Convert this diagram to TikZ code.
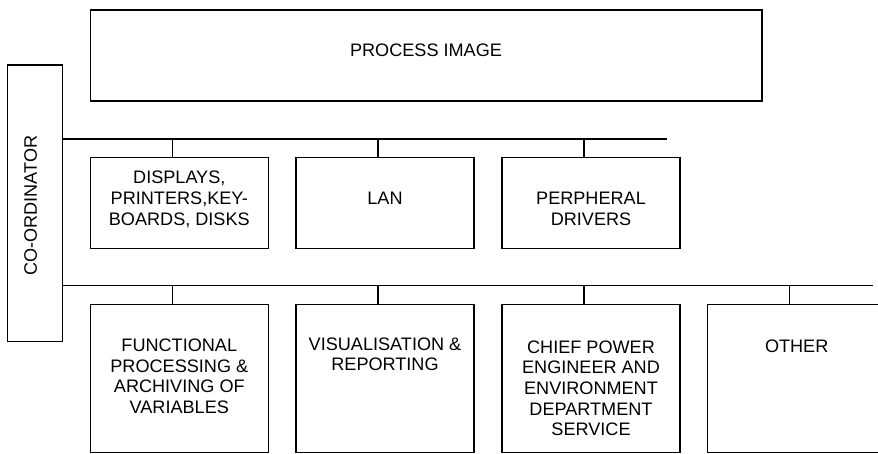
\documentclass[tikz,border=0pt]{standalone}
\usepackage{fontspec}
\setmainfont{Liberation Sans}
\begin{document}
\begin{tikzpicture}[
    x=1pt, y=-1pt, line width=1.5pt,
    unit/.style = {draw, inner sep=0pt, outer sep=0pt, anchor=north west, minimum width=178pt},
    upper/.style = {unit, minimum height=91pt},
    lower/.style = {unit, minimum height=147.8pt},
    caption/.style = {align=center, anchor=base, inner sep=0pt, font=\fontsize{18.1}{20.6}\selectfont}
    ]
    \useasboundingbox (0,0) rectangle (878,453);
    \clip (0,0) rectangle (878,453);
    % frames
    \node[unit, minimum width=671.5pt, minimum height=91pt] (process) at (90.5,10) {};
    \node[unit, minimum width=55pt, minimum height=276.7pt] (coord) at (7.7,65) {};
    \node[upper] (displays) at (90.3,157.7) {};
    \node[upper] (lan) at (296,157.7) {};
    \node[upper] (drivers) at (502,157.7) {};
    \node[lower] (functional) at (90.3,304.5) {};
    \node[lower] (visual) at (296,304.5) {};
    \node[lower] (chief) at (502,304.5) {};
    \node[lower] (other) at (707.7,304.5) {};
    % buses
    \coordinate (topbus) at (667.3,139);
    \coordinate (lowbus) at (873,285.7);
    \draw (coord.east |- topbus) -- (topbus);
    \draw (coord.east |- lowbus) -- (lowbus);
    \foreach \n in {displays, lan, drivers}
        \draw ([xshift=-7pt]\n.north) -- ([xshift=-7pt]\n.north |- topbus);
    \foreach \n in {functional, visual, chief, other}
        \draw ([xshift=-7pt]\n.north) -- ([xshift=-7pt]\n.north |- lowbus);
    % texts (base = last line)
    \node[caption] (process-text) at (426,56.7) {PROCESS IMAGE};
    \node[caption, rotate=90] (coord-text) at (36.8,205.5) {CO-ORDINATOR};
    \node[caption] (displays-text) at (179.3,225) {DISPLAYS,\\PRINTERS,KEY-\\BOARDS, DISKS};
    \node[caption] (lan-text) at (385,204) {LAN};
    \node[caption] (drivers-text) at (591,225) {PERPHERAL\\DRIVERS};
    \node[caption] (functional-text) at (179.3,413.3) {FUNCTIONAL\\PROCESSING \&\\ARCHIVING OF\\VARIABLES};
    \node[caption] (visual-text) at (385,370.7) {VISUALISATION \&\\REPORTING};
    \node[caption] (chief-text) at (591,435.7) {CHIEF POWER\\ENGINEER AND\\ENVIRONMENT\\DEPARTMENT\\SERVICE};
    \node[caption] (other-text) at (796.7,352) {OTHER};
\end{tikzpicture}
\end{document}
